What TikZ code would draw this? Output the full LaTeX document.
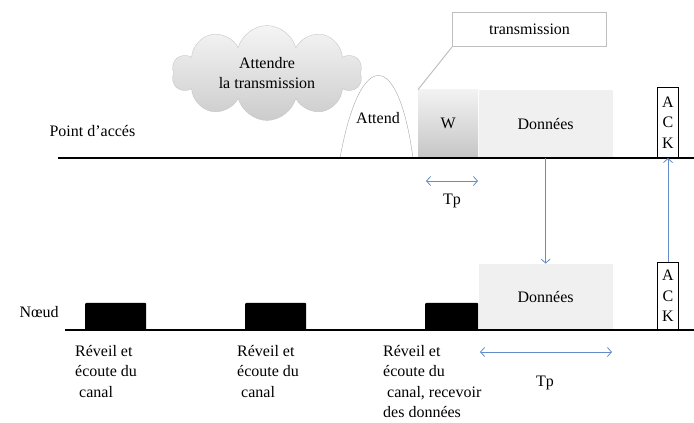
\documentclass[tikz,border=0pt]{standalone}
\usepackage{fontspec}
\setmainfont{Liberation Serif}
\usetikzlibrary{positioning}
\usetikzlibrary{shapes.symbols}
\usetikzlibrary{arrows.meta}
\usetikzlibrary{calc}

\definecolor{bleu}{RGB}{100,140,200}
\definecolor{fond}{RGB}{240,240,240}

\tikzset{
	ligne/.style={line width=2pt},
	paquet/.style={fill=fond, minimum width=134pt, inner sep=0pt},
	reveil/.style={fill=black, rounded corners=1pt, minimum width=61pt, minimum height=27pt, inner sep=0pt},
	ackbox/.style={draw, line width=1.5pt, fill=white, minimum width=21pt, minimum height=70pt, inner sep=0pt, align=center},
	fleche/.style={bleu, -{Straight Barb[length=4pt,width=9pt]}, line width=0.8pt},
	duree/.style={bleu, {Straight Barb[length=4pt,width=9pt]}-{Straight Barb[length=4pt,width=9pt]}, line width=0.8pt},
	legende/.style={align=left, anchor=north west, inner sep=0pt}
}

\begin{document}
\begin{tikzpicture}[x=1pt, y=-1pt, font=\fontspec{Liberation Serif}\fontsize{16}{20.5}\selectfont]
\useasboundingbox (0,0) rectangle (694,423);

\coordinate (hautG) at (58,158);
\coordinate (hautD) at (694,158);
\coordinate (basG) at (65,330);
\coordinate (basD) at (694,330);

\node[anchor=west] (ptAcces) at (46,131) {Point d’accés};
\node[anchor=west] (noeud) at (16,312) {Nœud};

\node[cloud, cloud puffs=10, aspect=2.3, draw=gray!45, top color=gray!8, bottom color=gray!40, minimum width=190pt, minimum height=84pt, align=center] (nuage) at (267,73) {Attendre\\la transmission};

\draw[gray!70] (340,158) .. controls (360,48) and (398,48) .. (413,158);
\node (attend) at (378,118) {Attend};

\node[anchor=south west, minimum width=60pt, minimum height=68pt, top color=gray!10, bottom color=gray!45, inner sep=0pt] (wbox) at (418,158) {W};
\node[paquet, minimum height=68pt, anchor=south west] (donneesHaut) at (wbox.south east) {Données};
\node[draw=gray!50, line width=1pt, minimum width=154pt, minimum height=34pt, anchor=north west] (bulle) at (452,12) {transmission};
\draw[gray!50, line width=1pt] (bulle.south west) -- (wbox.north west);
\node[ackbox, anchor=south] (ackHaut) at (668,158) {A\\C\\K};

\node[reveil, anchor=south west] (reveilA) at (85,330) {};
\node[reveil, anchor=south west] (reveilB) at (245,330) {};
\node[reveil, anchor=south west, minimum width=53pt] (reveilC) at (425,330) {};
\node[paquet, minimum height=66pt, anchor=south west] (donneesBas) at (reveilC.south east) {Données};
\node[ackbox, anchor=south, minimum height=67pt] (ackBas) at (668,330) {A\\C\\K};

\draw[ligne] (hautG) -- (hautD);
\draw[ligne] (basG) -- (basD);

\draw[fleche] (donneesHaut.south) -- (donneesBas.north);
\draw[fleche] (ackBas.north) -- (ackHaut.south);

\coordinate (tpHautG) at (426,181);
\coordinate (tpHautD) at (478,181);
\draw[duree] (tpHautG) -- (tpHautD);
\node (tpHaut) at (452,201) {Tp};

\coordinate (tpBasG) at (480,352);
\coordinate (tpBasD) at (612,352);
\draw[duree] (tpBasG) -- (tpBasD);
\node (tpBas) at (545,383) {Tp};

\node[legende] (legA) at (75,345) {Réveil et\\écoute du\\\hspace{4pt}canal};
\node[legende] (legB) at (237,345) {Réveil et\\écoute du\\\hspace{4pt}canal};
\node[legende] (legC) at (383,345) {Réveil et\\écoute du\\\hspace{4pt}canal, recevoir\\des données};
\end{tikzpicture}
\end{document}
